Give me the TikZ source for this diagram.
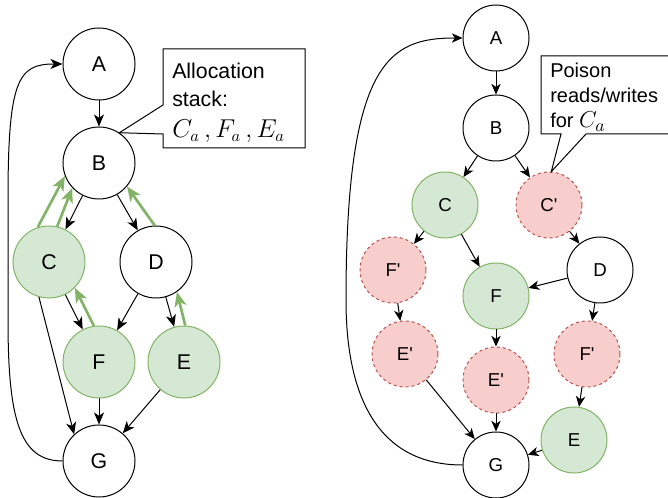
\documentclass[tikz,border=0pt]{standalone}
\usepackage{fontspec}
\usepackage{graphicx}
\setmainfont{Liberation Sans}[Ligatures=TeXOff]
\usetikzlibrary{arrows.meta,positioning}
\definecolor{grnfill}{HTML}{D5E8D4}
\definecolor{grnline}{HTML}{82B366}
\definecolor{redfill}{HTML}{F8CECC}
\definecolor{redline}{HTML}{B85450}
\tikzstyle{arrow} = [line width=0.75pt,-{Stealth[length=9pt,width=7.5pt,inset=2.5pt]}]
\tikzstyle{sarrow} = [line width=0.75pt,-{Stealth[length=8pt,width=7pt,inset=2.3pt]}]
\tikzstyle{back} = [line width=2pt,draw=grnline,-{Stealth[length=11pt,width=9pt,inset=3pt]}]

\begin{document}
\begin{tikzpicture}[x=0.75pt,y=-0.75pt,
  vtx/.style={circle,draw,line width=0.75pt,inner sep=0pt,minimum size=54pt,font=\fontsize{16}{19}\selectfont},
  svtx/.style={vtx,minimum size=49.5pt,font=\fontsize{14}{17}\selectfont},
  kept/.style={draw=grnline,fill=grnfill},
  poison/.style={draw=redline,fill=redfill,dash pattern=on 2.25pt off 2.25pt}]
\clip (0,0) rectangle (668,498);

% left: allocation
\node[vtx] (la) at (99,64) {A};
\node[vtx] (lb) at (99,163) {B};
\node[vtx,kept] (lc) at (49,262) {C};
\node[vtx] (ld) at (156,262) {D};
\node[vtx,kept] (lf) at (99,362) {F};
\node[vtx,kept] (le) at (184,362) {E};
\node[vtx] (lg) at (99,461) {G};

\draw [arrow] (la) -- (lb);
\draw [arrow] (lb) -- (lc);
\draw [arrow] (lb) -- (ld);
\draw [arrow] (lc) -- (lf);
\draw [arrow] (ld) -- (lf);
\draw [arrow] (ld) -- (le);
\draw [arrow] (lc.254) -- (lg.133);
\draw [arrow] (lf) -- (lg);
\draw [arrow] (le) -- (lg);
\draw [arrow] (lg.west) .. controls (20,461) and (8,420) .. (8,320) -- (8,200) .. controls (8,80) and (18,64) .. (la.west);

\draw [back] (lc.108) -- (lb.201);
\draw [back] (lc.77) -- (lb.223);
\draw [back] (ld.92) -- (lb.320);
\draw [back] (lf.98) -- (lc.315);
\draw [back] (le.88) -- (ld.305);

\draw[line width=0.75pt,fill=white] (163,49) -- (305,49) -- (305,148) -- (163,148) -- (163,134) -- (lb.56) -- (163,105) -- cycle;
\node[anchor=north west,align=left,inner sep=0pt,font=\fontsize{16}{20.5}\selectfont] (alloc) at (172,63) {Allocation\\stack:\\[3pt]\scalebox{1.12}{$C_a\,, F_a\,, E_a$}};

% right: poisoning
\node[svtx] (ra) at (496,38) {A};
\node[svtx] (rb) at (496,128) {B};
\node[svtx,kept] (rc) at (445,205) {C};
\node[svtx,poison] (rcp) at (549,205) {C'};
\node[svtx,poison] (rfp1) at (393,270) {F'};
\node[svtx,kept] (rf) at (496,296) {F};
\node[svtx] (rd) at (600,270) {D};
\node[svtx,poison] (rep1) at (405,354) {E'};
\node[svtx,poison] (rep2) at (496,380) {E'};
\node[svtx,poison] (rfp2) at (587,354) {F'};
\node[svtx,kept] (re) at (574,440) {E};
\node[svtx] (rg) at (496,465) {G};

\draw [sarrow] (ra) -- (rb);
\draw [sarrow] (rb) -- (rc);
\draw [sarrow] (rb) -- (rcp);
\draw [sarrow] (rc) -- (rfp1);
\draw [sarrow] (rc) -- (rf);
\draw [sarrow] (rcp) -- (rd);
\draw [sarrow] (rd) -- (rf);
\draw [sarrow] (rd) -- (rfp2);
\draw [sarrow] (rfp1) -- (rep1);
\draw [sarrow] (rf) -- (rep2);
\draw [sarrow] (rfp2) -- (re);
\draw [sarrow] (rep1) -- (rg);
\draw [sarrow] (rep2) -- (rg);
\draw [sarrow] (re) -- (rg);
\draw [sarrow] (rg.west) .. controls (380,465) and (346,400) .. (346,300) .. controls (346,60) and (390,38) .. (ra.west);

\draw[line width=0.75pt,fill=white] (541,56) -- (672,56) -- (672,134) -- (586,134) -- (rcp.86) -- (561,134) -- (541,134) -- cycle;
\node[anchor=north west,align=left,inner sep=0pt,font=\fontsize{15}{18.75}\selectfont] (poisontxt) at (550,63) {Poison\\reads/writes\\for \scalebox{1.2}{$C_a$}};
\end{tikzpicture}
\end{document}
